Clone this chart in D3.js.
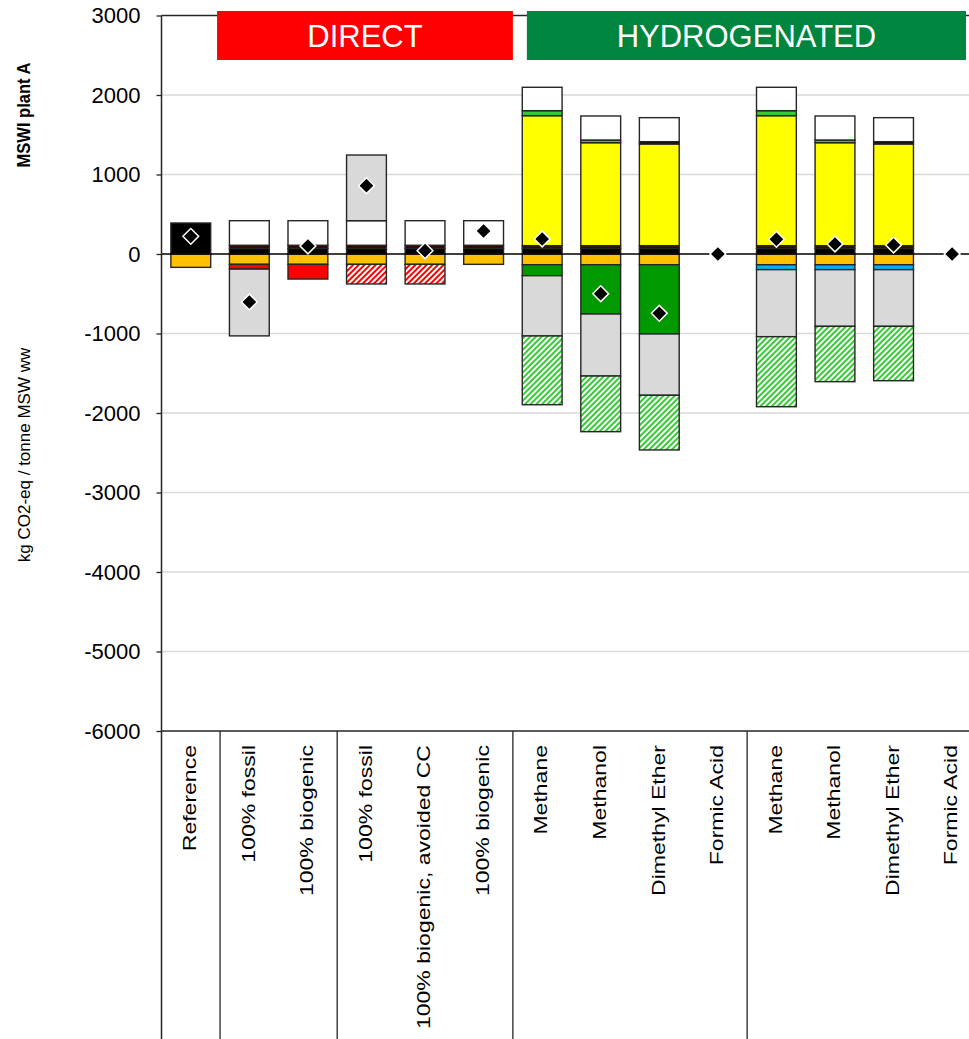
<!DOCTYPE html>
<html>
<head>
<meta charset="utf-8">
<script src="https://cdn.jsdelivr.net/npm/d3@7"></script>
<style>
  html, body { margin: 0; padding: 0; background: #fff; }
  svg { display: block; font-family: "Liberation Sans", Arial, sans-serif; }
</style>
</head>
<body>
<svg id="chart" width="969" height="1039"></svg>
<script>
// ---------------- DATA ----------------
const categories = ["Reference", "100% fossil", "100% biogenic", "100% fossil",
  "100% biogenic, avoided CC", "100% biogenic", "Methane", "Methanol",
  "Dimethyl Ether", "Formic Acid", "Methane", "Methanol", "Dimethyl Ether", "Formic Acid"];

const groupBreaks = [1, 3, 6, 10];           // category index where a new group starts
const yTicks = [3000, 2000, 1000, 0, -1000, -2000, -3000, -4000, -5000, -6000];

// stacked series (stack order; positives stack upward, negatives downward)
const sBlack      = [390,  70,  70,  70,  70,  70,  70,  70,  70, 0,  70,  70,  70, 0];
const sDarkRed    = [  0,  40,  40,  40,  40,  40,  35,  35,  35, 0,  35,  35,  35, 0];
const sOrange     = [-168,-130,-130,-130,-130,-130,-135,-135,-135, 0,-135,-135,-135, 0];
const sRed        = [  0, -60,-185,   0,   0,   0,   0,   0,   0, 0,   0,   0,   0, 0];
const sRedHatch   = [  0,   0,   0,-247,-247,   0,   0,   0,   0, 0,   0,   0,   0, 0];
const sDarkGreen  = [  0,   0,   0,   0,   0,   0,-138,-620,-871, 0,   0,   0,   0, 0];
const sBlue       = [  0,   0,   0,   0,   0,   0,   0,   0,   0, 0, -62, -62, -62, 0];
const sYellow     = [  0,   0,   0,   0,   0,   0,1635,1295,1279, 0,1635,1295,1279, 0];
const sLightGreen = [  0,   0,   0,   0,   0,   0,  63,  34,   0, 0,  63,  34,   0, 0];
const sThinBlack  = [  0,   0,   0,   0,   0,   0,   0,   0,  29, 0,   0,   0,  29, 0];
const sWhite      = [  0, 309, 309, 309, 309, 309, 294, 302, 302, 0, 294, 302, 302, 0];
const sGray       = [  0,-840,   0, 826,   0,   0,-758,-780,-771, 0,-843,-713,-713, 0];
const sGreenHatch = [  0,   0,   0,   0,   0,   0,-865,-700,-688, 0,-881,-696,-684, 0];

const netValues   = [222,-604, 101, 859,  42, 289, 189,-499,-746, 0, 184, 126, 113, 0];

const seriesNames = ["black","darkred","orange","red","redHatch","darkGreen","blue",
  "yellow","lightGreen","thinBlack","white","gray","greenHatch"];
const seriesData = [sBlack,sDarkRed,sOrange,sRed,sRedHatch,sDarkGreen,sBlue,
  sYellow,sLightGreen,sThinBlack,sWhite,sGray,sGreenHatch];
const seriesFill = {
  black: "#000000", darkred: "#3f0000", orange: "#ffc000", red: "#ff0000",
  redHatch: "url(#hatchRed)", darkGreen: "#009900", blue: "#00b0f0",
  yellow: "#ffff00", lightGreen: "#33cc33", thinBlack: "#000000",
  white: "#ffffff", gray: "#d9d9d9", greenHatch: "url(#hatchGreen)"
};

// ---------------- CHART ----------------
const svg = d3.select("#chart");
const W = 969, H = 1039;
const plotLeft = 161.5, plotRight = 981.4, plotTop = 15.5, plotBottom = 731;

const x = d3.scaleBand().domain(d3.range(categories.length))
  .range([plotLeft, plotRight]).paddingInner(0.32).paddingOuter(0.16);
const y = d3.scaleLinear().domain([-6000, 3000]).range([plotBottom, plotTop]);

// patterns
const defs = svg.append("defs");
function hatch(id, color) {
  const p = defs.append("pattern").attr("id", id).attr("patternUnits", "userSpaceOnUse")
    .attr("width", 4).attr("height", 4).attr("patternTransform", "rotate(45)");
  p.append("rect").attr("width", 4).attr("height", 4).attr("fill", "#fff");
  p.append("rect").attr("width", 2).attr("height", 4).attr("fill", color);
}
hatch("hatchRed", "#ff0000");
hatch("hatchGreen", "#33cc33");

// gridlines
svg.append("g").selectAll("line").data(yTicks.filter(t => t !== 0 && t !== 3000 && t !== -6000))
  .join("line")
  .attr("x1", plotLeft).attr("x2", W).attr("y1", d => y(d)).attr("y2", d => y(d))
  .attr("stroke", "#d9d9d9").attr("stroke-width", 1.3);

// top border
svg.append("line").attr("x1", plotLeft).attr("x2", W).attr("y1", y(3000)).attr("y2", y(3000))
  .attr("stroke", "#262626").attr("stroke-width", 1.3);

// banners
const bandStart = i => x(i) - x.step() * x.paddingInner() / 2;
const banners = [
  { text: "DIRECT", x0: bandStart(1) - 3, x1: bandStart(6), color: "#ff0000" },
  { text: "HYDROGENATED", x0: bandStart(6) + 14, x1: 966, color: "#00853e" }
];
const bg = svg.append("g");
bg.selectAll("rect").data(banners).join("rect")
  .attr("x", d => d.x0).attr("width", d => d.x1 - d.x0)
  .attr("y", 11).attr("height", 49).attr("fill", d => d.color);
bg.selectAll("text").data(banners).join("text")
  .attr("x", d => (d.x0 + d.x1) / 2).attr("y", 36).attr("dy", "0.36em")
  .attr("text-anchor", "middle").attr("fill", "#fff").attr("font-size", 31)
  .text(d => d.text);

// stacked bars
const table = categories.map((c, i) => {
  const row = { idx: i };
  seriesNames.forEach((n, k) => row[n] = seriesData[k][i]);
  return row;
});
const stack = d3.stack().keys(seriesNames).offset(d3.stackOffsetDiverging);
const stacked = stack(table);

const barsG = svg.append("g");
stacked.forEach(layer => {
  barsG.append("g").selectAll("rect")
    .data(layer.filter(d => d[1] - d[0] !== 0).map(d => ({ d, key: layer.key })))
    .join("rect")
    .attr("x", o => x(o.d.data.idx))
    .attr("width", x.bandwidth())
    .attr("y", o => y(Math.max(o.d[0], o.d[1])))
    .attr("height", o => Math.abs(y(o.d[0]) - y(o.d[1])))
    .attr("fill", o => seriesFill[o.key])
    .attr("stroke", "#262626").attr("stroke-width", 1.4);
});

// zero line
svg.append("line").attr("x1", plotLeft).attr("x2", W).attr("y1", y(0)).attr("y2", y(0))
  .attr("stroke", "#000").attr("stroke-width", 1.3);

// net markers (diamonds)
svg.append("g").selectAll("path").data(netValues).join("path")
  .attr("d", d3.symbol().type(d3.symbolSquare).size(125))
  .attr("transform", (d, i) => `translate(${x(i) + x.bandwidth() / 2},${y(d)}) rotate(45)`)
  .attr("fill", "#000").attr("stroke", "#fff").attr("stroke-width", 1.5);

// y axis
const yAxis = d3.axisLeft(y).tickValues(yTicks).tickSize(5).tickFormat(d => String(d));
const ya = svg.append("g").attr("transform", `translate(${plotLeft},0)`).call(yAxis);
ya.select(".domain").remove();
ya.selectAll(".tick line").attr("stroke", "#262626").attr("stroke-width", 1.3);
ya.selectAll(".tick text").attr("x", -21).attr("font-size", 22)
  .attr("fill", "#000").attr("font-family", "Liberation Sans, Arial, sans-serif");
svg.append("line").attr("x1", plotLeft).attr("x2", plotLeft).attr("y1", plotTop).attr("y2", H)
  .attr("stroke", "#262626").attr("stroke-width", 1.5);

// x axis line and group separators
svg.append("line").attr("x1", plotLeft).attr("x2", W).attr("y1", plotBottom).attr("y2", plotBottom)
  .attr("stroke", "#262626").attr("stroke-width", 1.5);
svg.append("g").selectAll("line").data(groupBreaks).join("line")
  .attr("x1", d => bandStart(d)).attr("x2", d => bandStart(d))
  .attr("y1", plotBottom).attr("y2", H)
  .attr("stroke", "#262626").attr("stroke-width", 1.3);

// category labels
svg.append("g").selectAll("text").data(categories).join("text")
  .attr("transform", (d, i) => `translate(${x(i) + x.bandwidth() / 2 - 1},745) rotate(-90) scale(1.28,1)`)
  .attr("text-anchor", "end").attr("dy", "0.35em")
  .attr("font-size", 18).attr("fill", "#000")
  .text(d => d);

// axis titles
svg.append("text").attr("transform", "translate(24,115) rotate(-90) scale(0.92,1)")
  .attr("text-anchor", "middle").attr("dy", "0.35em")
  .attr("font-size", 18).attr("font-weight", "bold").text("MSWI plant A");
svg.append("text").attr("transform", "translate(24,455) rotate(-90)")
  .attr("text-anchor", "middle").attr("dy", "0.35em")
  .attr("font-size", 17).text("kg CO2-eq / tonne MSW ww");
</script>
</body>
</html>
